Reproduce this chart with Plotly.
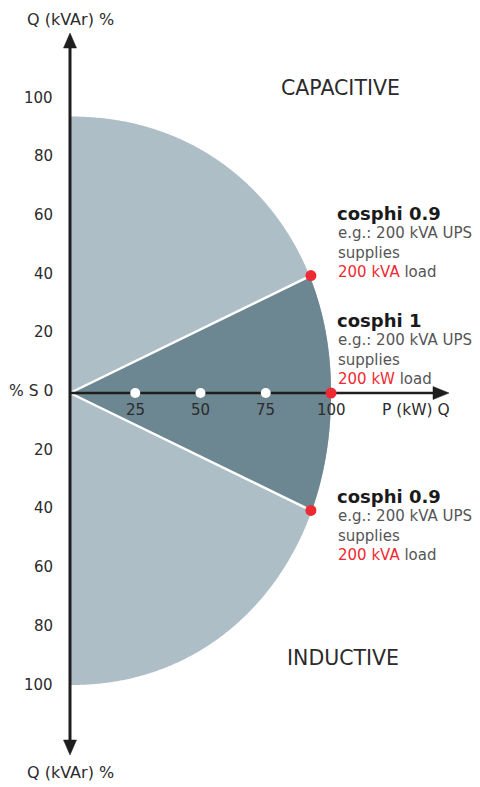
import numpy as np
import plotly.graph_objects as go

# ---------------- data ----------------
q_tick_values = [100, 80, 60, 40, 20, -20, -40, -60, -80, -100]
q_tick_labels = ["100", "80", "60", "40", "20", "20", "40", "60", "80", "100"]
p_tick_values = [25, 50, 75, 100]
p_tick_labels = ["25", "50", "75", "100"]
white_dot_p = [25, 50, 75]

# extent of the capability area (percent)
area_p_max = 100
area_q_top = 94.2
area_q_bottom = 99.5

# operating points
cosphi_p = [92.3, 100, 92.3]
cosphi_q = [40, 0, -40]
cosphi_titles = ["cosphi 0.9", "cosphi 1", "cosphi 0.9"]
cosphi_red = ["200 kVA", "200 kW", "200 kVA"]
cosphi_body = "e.g.: 200 kVA UPS"

# ---------------- layout helpers ----------------
PAGE_W, PAGE_H = 480, 787
OFF = 8                         # page body margin
W, H = PAGE_W - OFF, PAGE_H - OFF
OX, OY = 70, 393                # page pixel of origin
SX, SY = 2.61, 2.935            # pixels per percent


def X(px):
    return (px - OX) / SX


def Y(py):
    return (OY - py) / SY


FONT = "DejaVu Sans"
DARK = "#1e1e1e"
TXT = "#2b2b2b"
BODY = "#555555"
RED = "#ee2a33"
LIGHT = "#adbec7"
MID = "#6c8792"

# superellipse outline of the area
n = 2.1
th = np.linspace(np.pi / 2, -np.pi / 2, 721)
c, s = np.cos(th), np.sin(th)
ax_ = area_p_max * np.abs(c) ** (2 / n)
b = np.where(s >= 0, area_q_top, area_q_bottom)
ay_ = b * np.sign(s) * np.abs(s) ** (2 / n)

fig = go.Figure()

# light area
fig.add_trace(go.Scatter(x=np.r_[0, ax_, 0], y=np.r_[ay_[0], ay_, ay_[-1]],
                         fill="toself", fillcolor=LIGHT, mode="none",
                         hoverinfo="skip"))

# dark sector between cosphi 0.9 points
mask = (ay_ <= cosphi_q[0]) & (ay_ >= cosphi_q[2]) & (ax_ > 0)
sx = np.r_[0, cosphi_p[0], ax_[mask], cosphi_p[2], 0]
sy = np.r_[0, cosphi_q[0], ay_[mask], cosphi_q[2], 0]
fig.add_trace(go.Scatter(x=sx, y=sy, fill="toself", fillcolor=MID,
                         mode="none", hoverinfo="skip"))

# white separating lines
for i in (0, 2):
    fig.add_trace(go.Scatter(x=[0, cosphi_p[i]], y=[0, cosphi_q[i]],
                             mode="lines", line=dict(color="white", width=2.5),
                             hoverinfo="skip"))

# axes lines
fig.add_trace(go.Scatter(x=[0, X(434)], y=[0, 0], mode="lines",
                         line=dict(color=DARK, width=2.5), hoverinfo="skip"))
fig.add_trace(go.Scatter(x=[0, 0], y=[Y(46), Y(742)], mode="lines",
                         line=dict(color=DARK, width=3), hoverinfo="skip"))
# arrowheads
for tx, ty in [
    ([X(433), X(449), X(433), X(433)], [Y(386.5), 0, Y(399.5), Y(386.5)]),
    ([X(63.5), X(70), X(76.5), X(63.5)], [Y(48), Y(33), Y(48), Y(48)]),
    ([X(63.5), X(70), X(76.5), X(63.5)], [Y(740), Y(755), Y(740), Y(740)]),
]:
    fig.add_trace(go.Scatter(x=tx, y=ty, fill="toself", fillcolor=DARK,
                             mode="lines", line=dict(color=DARK, width=0.5),
                             hoverinfo="skip"))

# white dots on P axis
fig.add_trace(go.Scatter(x=white_dot_p, y=[0] * len(white_dot_p), mode="markers",
                         marker=dict(color="white", size=10), hoverinfo="skip"))
# red dots
fig.add_trace(go.Scatter(x=cosphi_p, y=cosphi_q, mode="markers",
                         marker=dict(color=RED, size=11), hoverinfo="skip"))

ann = []


def text(x, y, t, size=14, color=TXT, xanchor="center", bold=False,
         yshift=0, yanchor="middle"):
    if bold:
        t = "<b>" + t + "</b>"
    ann.append(dict(x=x, y=y, text=t, showarrow=False, xanchor=xanchor,
                    yanchor=yanchor, yshift=yshift, borderpad=0,
                    font=dict(family=FONT, size=size, color=color)))


# Q tick labels
for v, lab in zip(q_tick_values, q_tick_labels):
    text(X(54), v, lab, size=15, xanchor="right", yshift=2)
text(X(54), 0, "% S 0", size=15.5, xanchor="right", yshift=2)
# P tick labels
for v, lab in zip(p_tick_values, p_tick_labels):
    text(v, Y(411), lab, size=15, yshift=1)
text(X(381), Y(411), "P (kW) Q", size=15.5, xanchor="left", yshift=1)

# axis titles
text(0, Y(8.5), "Q (kVAr) %", size=16, yanchor="top")
text(0, Y(773), "Q (kVAr) %", size=16, yshift=1)

# region labels
text(X(340), Y(88), "CAPACITIVE", size=20.5)
text(X(343), Y(658), "INDUCTIVE", size=20.5)

# cosphi blocks
block_tops = [213, 320, 496]
for top, title, red in zip(block_tops, cosphi_titles, cosphi_red):
    text(X(336), Y(top), title, size=18, color="#1a1a1a", xanchor="left", bold=True)
    text(X(337), Y(top + 20), cosphi_body, size=15, color=BODY, xanchor="left")
    text(X(337), Y(top + 40), "supplies", size=15, color=BODY, xanchor="left")
    text(X(337), Y(top + 59),
         f"<span style='color:{RED}'>{red}</span> load",
         size=15, color=BODY, xanchor="left")

fig.update_layout(
    width=W, height=H, margin=dict(l=0, r=0, t=0, b=0),
    paper_bgcolor="white", plot_bgcolor="white", showlegend=False,
    xaxis=dict(range=[X(OFF), X(PAGE_W)], visible=False, fixedrange=True),
    yaxis=dict(range=[Y(PAGE_H), Y(OFF)], visible=False, fixedrange=True),
    annotations=ann, hovermode=False,
)

fig.write_html("out.html", config={"displayModeBar": False})
